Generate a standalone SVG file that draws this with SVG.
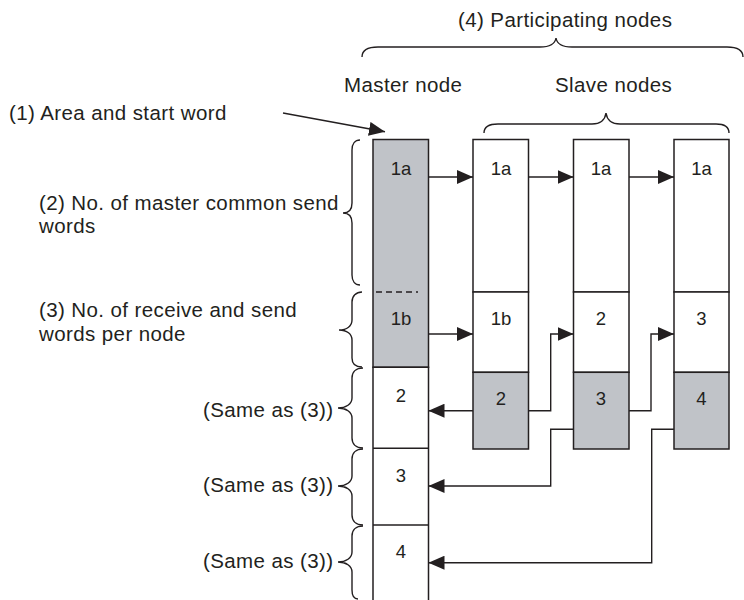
<svg xmlns="http://www.w3.org/2000/svg" width="744" height="600" viewBox="0 0 744 600">
<defs>
<marker id="ah" markerUnits="userSpaceOnUse" markerWidth="16" markerHeight="14" refX="16" refY="7" orient="auto">
<path d="M0,0 L16,7 L0,14 z" fill="#231f20"/>
</marker>
<style>
.lbl{font-family:"Liberation Sans",Arial,sans-serif;font-size:20.5px;letter-spacing:0.4px;fill:#231f20}
.num{font-family:"Liberation Sans",Arial,sans-serif;font-size:18.5px;fill:#231f20;text-anchor:middle}
.cell{stroke:#231f20;stroke-width:1.5;fill:#fff}
.gray{fill:#c0c3c8}
.brace{fill:none;stroke:#231f20;stroke-width:1.4}
.conn{fill:none;stroke:#231f20;stroke-width:1.4;marker-end:url(#ah)}
</style>
</defs>
<rect width="744" height="600" fill="#fff"/>

<g id="labels">
<text class="lbl" x="458" y="27">(4) Participating nodes</text>
<text class="lbl" x="344" y="92">Master node</text>
<text class="lbl" x="555" y="92">Slave nodes</text>
<text class="lbl" x="9" y="120">(1) Area and start word</text>
<text class="lbl" x="39" y="210">(2) No. of master common send</text>
<text class="lbl" x="39" y="233">words</text>
<text class="lbl" x="39" y="317">(3) No. of receive and send</text>
<text class="lbl" x="39" y="341">words per node</text>
<text class="lbl" x="203" y="417">(Same as (3))</text>
<text class="lbl" x="203" y="492">(Same as (3))</text>
<text class="lbl" x="203" y="568">(Same as (3))</text>
</g>

<g id="braces">
<path class="brace" d="M362,57 C362,50 368,47 378,47 L540,47 C550,47 555,44 556,38 C557,44 562,47 572,47 L727,47 C737,47 743,50 743,57"/>
<path class="brace" d="M484,133 C484,127 489,124 498,124 L592,124 C601,124 605,120 606,113 C607,120 611,124 620,124 L716,124 C725,124 729,127 729,133"/>
<path class="brace" d="M360,140 C355,140 352,144 352,150 L352,203 C352,209 349,213 343,213 C349,213 352,217 352,223 L352,275 C352,281 355,285 360,285"/>
<path class="brace" d="M362,292 C356,292 352,296 352,302 L352,320 C352,326 347,330 339,330 C347,330 352,334 352,340 L352,358 C352,364 356,367 362,367"/>
<path class="brace" d="M363,368 C356,368 352,372 352,378 L352,398 C352,404 346,408 338,408 C346,408 352,412 352,418 L352,438 C352,444 356,448 363,448"/>
<path class="brace" d="M363,449 C356,449 352,453 352,459 L352,476 C352,482 346,486 338,486 C346,486 352,490 352,496 L352,515 C352,521 356,525 363,525"/>
<path class="brace" d="M363,526 C356,526 352,530 352,536 L352,552 C352,558 346,562 338,562 C346,562 352,566 352,572 L352,590 C352,596 354,599 358,599"/>
</g>

<g id="master">
<rect class="cell gray" x="373" y="139.5" width="55.5" height="227.8"/>
<line x1="376" y1="292" x2="418" y2="292" stroke="#231f20" stroke-width="1.4" stroke-dasharray="6,4"/>
<path class="cell" d="M373,600 V367.3 H428.5 V600"/>
<line x1="373" y1="448.3" x2="428.5" y2="448.3" stroke="#231f20" stroke-width="1.5"/>
<line x1="373" y1="525" x2="428.5" y2="525" stroke="#231f20" stroke-width="1.5"/>
<text class="num" x="401" y="174.5">1a</text>
<text class="num" x="401" y="325">1b</text>
<text class="num" x="401" y="402">2</text>
<text class="num" x="401" y="482">3</text>
<text class="num" x="401" y="558">4</text>
</g>

<g id="slave1">
<rect class="cell" x="473" y="139.5" width="55.5" height="152.5"/>
<rect class="cell" x="473" y="292" width="55.5" height="80.3"/>
<rect class="cell gray" x="473" y="372.3" width="55.5" height="76.7"/>
<text class="num" x="501" y="174.5">1a</text>
<text class="num" x="501" y="325">1b</text>
<text class="num" x="501" y="405">2</text>
</g>

<g id="slave2">
<rect class="cell" x="573.5" y="139.5" width="55.5" height="152.5"/>
<rect class="cell" x="573.5" y="292" width="55.5" height="80.3"/>
<rect class="cell gray" x="573.5" y="372.3" width="55.5" height="76.7"/>
<text class="num" x="601" y="174.5">1a</text>
<text class="num" x="601" y="325">2</text>
<text class="num" x="601" y="405">3</text>
</g>

<g id="slave3">
<rect class="cell" x="674" y="139.5" width="55" height="152.5"/>
<rect class="cell" x="674" y="292" width="55" height="80.3"/>
<rect class="cell gray" x="674" y="372.3" width="55" height="76.7"/>
<text class="num" x="701.5" y="174.5">1a</text>
<text class="num" x="701.5" y="325">3</text>
<text class="num" x="701.5" y="405">4</text>
</g>

<g id="connectors">
<path class="conn" d="M283,113 L385,131.7"/>
<path class="conn" d="M428.5,177 H473"/>
<path class="conn" d="M528.5,177 H573.5"/>
<path class="conn" d="M629,177 H674"/>
<path class="conn" d="M428.5,334 H473"/>
<path class="conn" d="M528.5,410.7 H550.7 V334 H573.5"/>
<path class="conn" d="M629,410.7 H651 V334 H674"/>
<path class="conn" d="M473,410.7 H428.5"/>
<path class="conn" d="M573.5,429.3 H550.7 V486 H428.5"/>
<path class="conn" d="M674,429.3 H651.7 V562.7 H428.5"/>
</g>
</svg>
